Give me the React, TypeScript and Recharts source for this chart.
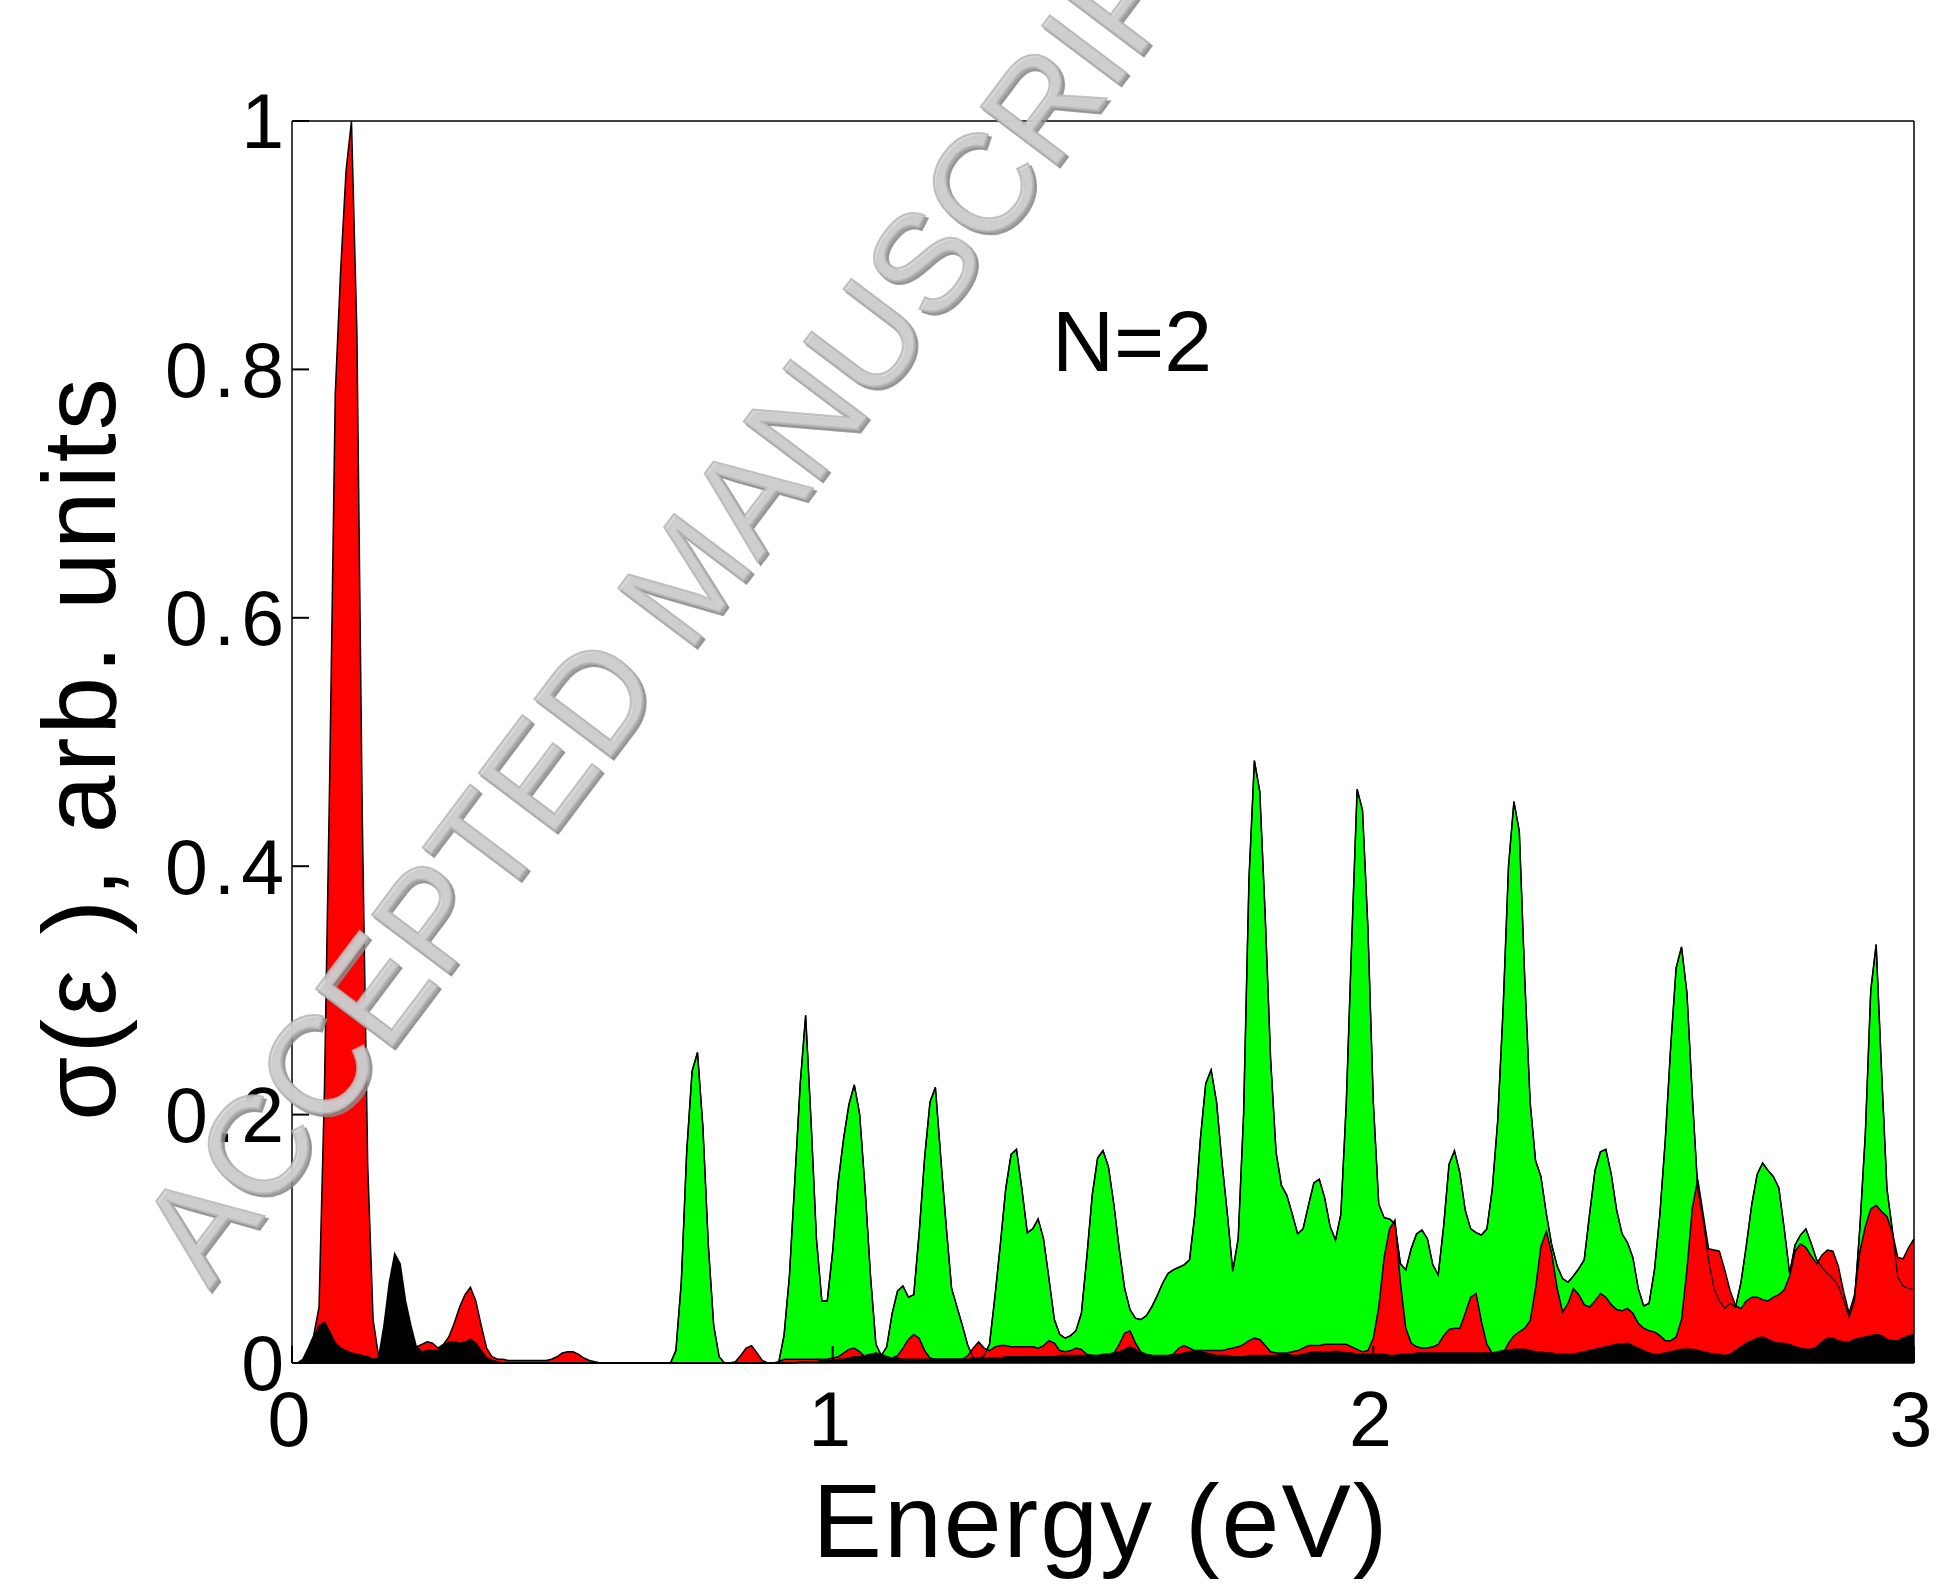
import React from "react";
import { ComposedChart, Area, XAxis, YAxis } from "recharts";

// energy grid (eV)
const energy = [
  0, 0.01, 0.02, 0.03, 0.04, 0.05, 0.06, 0.07, 0.08, 0.09,
  0.1, 0.11, 0.12, 0.13, 0.14, 0.15, 0.16, 0.17, 0.18, 0.19,
  0.2, 0.21, 0.22, 0.23, 0.24, 0.25, 0.26, 0.27, 0.28, 0.29,
  0.3, 0.31, 0.32, 0.33, 0.34, 0.35, 0.36, 0.37, 0.38, 0.39,
  0.4, 0.41, 0.42, 0.43, 0.44, 0.45, 0.46, 0.47, 0.48, 0.49,
  0.5, 0.51, 0.52, 0.53, 0.54, 0.55, 0.56, 0.57, 0.58, 0.59,
  0.6, 0.61, 0.62, 0.63, 0.64, 0.65, 0.66, 0.67, 0.68, 0.69,
  0.7, 0.71, 0.72, 0.73, 0.74, 0.75, 0.76, 0.77, 0.78, 0.79,
  0.8, 0.81, 0.82, 0.83, 0.84, 0.85, 0.86, 0.87, 0.88, 0.89,
  0.9, 0.91, 0.92, 0.93, 0.94, 0.95, 0.96, 0.97, 0.98, 0.99,
  1, 1.01, 1.02, 1.03, 1.04, 1.05, 1.06, 1.07, 1.08, 1.09,
  1.1, 1.11, 1.12, 1.13, 1.14, 1.15, 1.16, 1.17, 1.18, 1.19,
  1.2, 1.21, 1.22, 1.23, 1.24, 1.25, 1.26, 1.27, 1.28, 1.29,
  1.3, 1.31, 1.32, 1.33, 1.34, 1.35, 1.36, 1.37, 1.38, 1.39,
  1.4, 1.41, 1.42, 1.43, 1.44, 1.45, 1.46, 1.47, 1.48, 1.49,
  1.5, 1.51, 1.52, 1.53, 1.54, 1.55, 1.56, 1.57, 1.58, 1.59,
  1.6, 1.61, 1.62, 1.63, 1.64, 1.65, 1.66, 1.67, 1.68, 1.69,
  1.7, 1.71, 1.72, 1.73, 1.74, 1.75, 1.76, 1.77, 1.78, 1.79,
  1.8, 1.81, 1.82, 1.83, 1.84, 1.85, 1.86, 1.87, 1.88, 1.89,
  1.9, 1.91, 1.92, 1.93, 1.94, 1.95, 1.96, 1.97, 1.98, 1.99,
  2, 2.01, 2.02, 2.03, 2.04, 2.05, 2.06, 2.07, 2.08, 2.09,
  2.1, 2.11, 2.12, 2.13, 2.14, 2.15, 2.16, 2.17, 2.18, 2.19,
  2.2, 2.21, 2.22, 2.23, 2.24, 2.25, 2.26, 2.27, 2.28, 2.29,
  2.3, 2.31, 2.32, 2.33, 2.34, 2.35, 2.36, 2.37, 2.38, 2.39,
  2.4, 2.41, 2.42, 2.43, 2.44, 2.45, 2.46, 2.47, 2.48, 2.49,
  2.5, 2.51, 2.52, 2.53, 2.54, 2.55, 2.56, 2.57, 2.58, 2.59,
  2.6, 2.61, 2.62, 2.63, 2.64, 2.65, 2.66, 2.67, 2.68, 2.69,
  2.7, 2.71, 2.72, 2.73, 2.74, 2.75, 2.76, 2.77, 2.78, 2.79,
  2.8, 2.81, 2.82, 2.83, 2.84, 2.85, 2.86, 2.87, 2.88, 2.89,
  2.9, 2.91, 2.92, 2.93, 2.94, 2.95, 2.96, 2.97, 2.98, 2.99,
  3,
];

// green spectrum
const green = [
  0, 0, 0, 0, 0, 0, 0, 0, 0, 0,
  0, 0, 0, 0, 0, 0, 0, 0, 0, 0,
  0, 0, 0, 0, 0, 0, 0, 0, 0, 0,
  0, 0, 0, 0, 0, 0, 0, 0, 0, 0,
  0, 0, 0, 0, 0, 0, 0, 0, 0, 0,
  0, 0, 0, 0, 0, 0, 0, 0, 0, 0,
  0, 0, 0, 0, 0, 0, 0, 0, 0, 0,
  0, 0.01, 0.065, 0.17, 0.235, 0.25, 0.19, 0.095, 0.03, 0.005,
  0, 0, 0, 0, 0, 0, 0, 0, 0, 0,
  0, 0.022, 0.07, 0.147, 0.225, 0.28, 0.195, 0.1, 0.05, 0.05,
  0.09, 0.145, 0.18, 0.208, 0.224, 0.2, 0.14, 0.07, 0.015, 0.006,
  0.013, 0.04, 0.058, 0.062, 0.053, 0.055, 0.105, 0.165, 0.21, 0.222,
  0.165, 0.11, 0.06, 0.045, 0.03, 0.014, 0.004, 0.004, 0.006, 0.015,
  0.053, 0.095, 0.14, 0.168, 0.172, 0.14, 0.105, 0.108, 0.116, 0.1,
  0.068, 0.035, 0.023, 0.02, 0.022, 0.026, 0.04, 0.085, 0.135, 0.165,
  0.171, 0.158, 0.128, 0.092, 0.06, 0.043, 0.036, 0.035, 0.038, 0.045,
  0.054, 0.064, 0.072, 0.075, 0.077, 0.079, 0.083, 0.12, 0.18, 0.225,
  0.236, 0.21, 0.162, 0.12, 0.074, 0.1, 0.2, 0.39, 0.485, 0.46,
  0.36, 0.245, 0.17, 0.143, 0.135, 0.12, 0.104, 0.108, 0.127, 0.145,
  0.148, 0.133, 0.11, 0.099, 0.12, 0.21, 0.34, 0.462, 0.445, 0.35,
  0.21, 0.128, 0.117, 0.116, 0.112, 0.08, 0.075, 0.092, 0.104, 0.107,
  0.1, 0.079, 0.071, 0.11, 0.16, 0.171, 0.153, 0.123, 0.108, 0.105,
  0.103, 0.108, 0.14, 0.195, 0.285, 0.4, 0.452, 0.428, 0.31, 0.21,
  0.163, 0.15, 0.12, 0.095, 0.078, 0.068, 0.065, 0.07, 0.076, 0.083,
  0.12, 0.155, 0.17, 0.172, 0.152, 0.123, 0.104, 0.097, 0.085, 0.06,
  0.046, 0.048, 0.075, 0.12, 0.18, 0.255, 0.318, 0.335, 0.298, 0.215,
  0.14, 0.115, 0.083, 0.06, 0.05, 0.044, 0.048, 0.045, 0.065, 0.095,
  0.128, 0.152, 0.161, 0.155, 0.15, 0.141, 0.108, 0.072, 0.095, 0.103,
  0.108, 0.096, 0.083, 0.077, 0.072, 0.068, 0.062, 0.05, 0.037, 0.05,
  0.11, 0.185, 0.3, 0.337, 0.235, 0.14, 0.107, 0.069, 0.062, 0.06,
  0.059,
];

// red spectrum
const red = [
  0, 0, 0.003, 0.012, 0.022, 0.045, 0.22, 0.48, 0.78, 0.88,
  0.96, 1.0, 0.83, 0.44, 0.16, 0.035, 0.006, 0.005, 0.004, 0.004,
  0.004, 0.006, 0.01, 0.013, 0.015, 0.017, 0.016, 0.012, 0.015, 0.021,
  0.032, 0.045, 0.055, 0.061, 0.05, 0.03, 0.012, 0.005, 0.003, 0.003,
  0.002, 0.002, 0.002, 0.002, 0.002, 0.002, 0.002, 0.002, 0.003, 0.005,
  0.008, 0.009, 0.009, 0.007, 0.004, 0.002, 0.001, 0, 0, 0,
  0, 0, 0, 0, 0, 0, 0, 0, 0, 0,
  0, 0, 0, 0, 0, 0, 0, 0, 0, 0,
  0, 0, 0.001, 0.006, 0.012, 0.014, 0.008, 0.002, 0, 0,
  0.001, 0.003, 0.003, 0.003, 0.003, 0.003, 0.003, 0.003, 0.003, 0.003,
  0.004, 0.005, 0.008, 0.011, 0.012, 0.009, 0.005, 0.004, 0.003, 0.003,
  0.003, 0.004, 0.006, 0.012, 0.019, 0.023, 0.02, 0.01, 0.004, 0.003,
  0.003, 0.003, 0.003, 0.003, 0.003, 0.006, 0.012, 0.017, 0.012, 0.01,
  0.013, 0.014, 0.014, 0.013, 0.013, 0.013, 0.013, 0.013, 0.012, 0.014,
  0.018, 0.016, 0.01, 0.009, 0.01, 0.012, 0.011, 0.007, 0.006, 0.006,
  0.007, 0.007, 0.008, 0.015, 0.024, 0.026, 0.016, 0.009, 0.007, 0.006,
  0.006, 0.006, 0.006, 0.007, 0.012, 0.014, 0.012, 0.01, 0.01, 0.01,
  0.01, 0.01, 0.01, 0.011, 0.012, 0.013, 0.015, 0.018, 0.02, 0.019,
  0.014, 0.009, 0.008, 0.008, 0.008, 0.009, 0.01, 0.012, 0.014, 0.014,
  0.014, 0.015, 0.015, 0.015, 0.015, 0.015, 0.013, 0.011, 0.009, 0.01,
  0.02, 0.045, 0.085, 0.108, 0.115, 0.065, 0.028, 0.016, 0.013, 0.012,
  0.012, 0.013, 0.015, 0.022, 0.027, 0.028, 0.028, 0.04, 0.053, 0.056,
  0.033, 0.015, 0.008, 0.006, 0.008, 0.016, 0.022, 0.025, 0.028, 0.034,
  0.06, 0.094, 0.106, 0.088, 0.06, 0.041, 0.048, 0.06, 0.055, 0.047,
  0.045, 0.05, 0.056, 0.053, 0.047, 0.043, 0.042, 0.044, 0.04, 0.032,
  0.028, 0.026, 0.025, 0.022, 0.018, 0.018, 0.021, 0.035, 0.075, 0.125,
  0.148, 0.12, 0.092, 0.091, 0.09, 0.075, 0.058, 0.046, 0.044, 0.05,
  0.053, 0.053, 0.051, 0.05, 0.053, 0.055, 0.059, 0.07, 0.09, 0.096,
  0.093, 0.086, 0.08, 0.087, 0.091, 0.09, 0.078, 0.057, 0.04, 0.055,
  0.09, 0.11, 0.124, 0.127, 0.122, 0.118, 0.105, 0.085, 0.084, 0.093,
  0.1,
];

// black spectrum
const black = [
  0, 0, 0.002, 0.01, 0.02, 0.03, 0.033, 0.025, 0.016, 0.012,
  0.01, 0.008, 0.007, 0.006, 0.005, 0.003, 0.004, 0.03, 0.065, 0.088,
  0.08, 0.05, 0.03, 0.013, 0.009, 0.01, 0.01, 0.01, 0.014, 0.017,
  0.017, 0.016, 0.017, 0.019, 0.016, 0.01, 0.004, 0.002, 0.001, 0,
  0, 0, 0, 0, 0, 0, 0, 0, 0, 0,
  0, 0, 0, 0, 0, 0, 0, 0, 0, 0,
  0, 0, 0, 0, 0, 0, 0, 0, 0, 0,
  0, 0, 0, 0, 0, 0, 0, 0, 0, 0,
  0, 0, 0, 0, 0, 0, 0, 0, 0, 0,
  0, 0, 0, 0, 0.001, 0.001, 0.001, 0.001, 0.002, 0.002,
  0.002, 0.003, 0.003, 0.004, 0.005, 0.005, 0.006, 0.007, 0.008, 0.007,
  0.005, 0.004, 0.004, 0.003, 0.003, 0.003, 0.003, 0.003, 0.003, 0.003,
  0.003, 0.003, 0.003, 0.003, 0.003, 0.003, 0.004, 0.004, 0.004, 0.004,
  0.004, 0.004, 0.005, 0.005, 0.005, 0.005, 0.005, 0.005, 0.005, 0.005,
  0.005, 0.005, 0.006, 0.006, 0.006, 0.006, 0.006, 0.006, 0.006, 0.006,
  0.006, 0.007, 0.008, 0.009, 0.011, 0.013, 0.011, 0.008, 0.006, 0.006,
  0.005, 0.005, 0.005, 0.006, 0.007, 0.008, 0.009, 0.01, 0.009, 0.008,
  0.007, 0.006, 0.006, 0.006, 0.005, 0.005, 0.005, 0.006, 0.006, 0.006,
  0.006, 0.006, 0.006, 0.007, 0.007, 0.006, 0.006, 0.007, 0.008, 0.009,
  0.009, 0.009, 0.009, 0.0095, 0.009, 0.008, 0.008, 0.007, 0.007, 0.007,
  0.007, 0.007, 0.007, 0.006, 0.006, 0.007, 0.007, 0.007, 0.008, 0.008,
  0.008, 0.008, 0.008, 0.008, 0.008, 0.008, 0.008, 0.008, 0.008, 0.008,
  0.008, 0.008, 0.008, 0.009, 0.01, 0.01, 0.011, 0.011, 0.011, 0.01,
  0.009, 0.009, 0.008, 0.008, 0.007, 0.007, 0.007, 0.007, 0.008, 0.009,
  0.01, 0.011, 0.012, 0.013, 0.014, 0.015, 0.015, 0.016, 0.014, 0.012,
  0.01, 0.008, 0.007, 0.007, 0.008, 0.009, 0.01, 0.011, 0.011, 0.011,
  0.01, 0.009, 0.008, 0.007, 0.007, 0.006, 0.007, 0.01, 0.013, 0.016,
  0.018, 0.02, 0.021, 0.019, 0.017, 0.016, 0.016, 0.015, 0.013, 0.012,
  0.011, 0.011, 0.013, 0.017, 0.02, 0.02, 0.018, 0.017, 0.017, 0.019,
  0.02, 0.021, 0.022, 0.023, 0.022, 0.019, 0.018, 0.018, 0.02, 0.022,
  0.023,
];

const xTicks = [0, 1, 2, 3];
const yTicks = [0, 0.2, 0.4, 0.6, 0.8, 1];

const W = 1941;
const H = 1586;
const FONT = '"Liberation Sans", Arial, Helvetica, sans-serif';

export default function App() {
  const data = energy.map((e, i) => ({ e, g: green[i], r: red[i], b: black[i] }));

  const tickStyle = { fontFamily: FONT, fontSize: 77, fill: "#000", letterSpacing: 6 };
  const axisLine = { stroke: "#000", strokeWidth: 1.5 };
  const tickLine = { stroke: "#000", strokeWidth: 2 };

  return (
    <div style={{ position: "absolute", left: 0, top: 0, width: W, height: H, background: "#fff" }}>
      <ComposedChart
        width={W}
        height={H}
        data={data}
        margin={{ top: 120, right: 26, bottom: 222, left: 291 }}
      >
        <XAxis
          xAxisId="bottom"
          dataKey="e"
          type="number"
          domain={[0, 3]}
          ticks={xTicks}
          interval={0}
          height={1}
          tickSize={-17}
          tickMargin={45}
          tick={tickStyle}
          axisLine={axisLine}
          tickLine={tickLine}
        />
        <XAxis
          xAxisId="top"
          orientation="top"
          dataKey="e"
          type="number"
          domain={[0, 3]}
          ticks={xTicks}
          interval={0}
          height={1}
          tickSize={-17}
          tick={false}
          axisLine={axisLine}
          tickLine={tickLine}
        />
        <YAxis
          yAxisId="left"
          type="number"
          domain={[0, 1]}
          ticks={yTicks}
          interval={0}
          width={1}
          tickSize={-17}
          tickMargin={19}
          tick={tickStyle}
          axisLine={axisLine}
          tickLine={tickLine}
        />
        <YAxis
          yAxisId="right"
          orientation="right"
          type="number"
          domain={[0, 1]}
          ticks={yTicks}
          interval={0}
          width={1}
          tickSize={-17}
          tick={false}
          axisLine={axisLine}
          tickLine={tickLine}
        />
        <Area
          xAxisId="bottom"
          yAxisId="left"
          dataKey="g"
          type="linear"
          fill="#00ff00"
          fillOpacity={1}
          stroke="#000"
          strokeWidth={1.5}
          dot={false}
          activeDot={false}
          isAnimationActive={false}
        />
        <Area
          xAxisId="bottom"
          yAxisId="left"
          dataKey="r"
          type="linear"
          fill="#ff0000"
          fillOpacity={1}
          stroke="#000"
          strokeWidth={1.5}
          dot={false}
          activeDot={false}
          isAnimationActive={false}
        />
        {/* green outline shows through the red fill */}
        <Area
          xAxisId="bottom"
          yAxisId="left"
          dataKey="g"
          type="linear"
          fill="none"
          stroke="#000"
          strokeWidth={1.2}
          dot={false}
          activeDot={false}
          isAnimationActive={false}
        />
        <Area
          xAxisId="bottom"
          yAxisId="left"
          dataKey="b"
          type="linear"
          fill="#000"
          fillOpacity={1}
          stroke="#000"
          strokeWidth={1.5}
          dot={false}
          activeDot={false}
          isAnimationActive={false}
        />
      </ComposedChart>

      <svg
        width={W}
        height={H}
        style={{ position: "absolute", left: 0, top: 0, pointerEvents: "none" }}
        fontFamily={FONT}
      >
        {/* watermark: dark offset copy for the bevel, light face on top */}
        <text
          x={212}
          y={1293}
          transform="rotate(-53 212 1293)"
          fontSize={139}
          fill="#8a8a8a"
          fillOpacity={0.8}
          stroke="#8a8a8a"
          strokeWidth={2}
          strokeOpacity={0.8}
        >
          ACCEPTED MANUSCRIPT
        </text>
        <text
          x={209}
          y={1290}
          transform="rotate(-53 209 1290)"
          fontSize={139}
          fill="#d4d4d4"
          fillOpacity={0.88}
          stroke="#b4b4b4"
          strokeWidth={2}
          strokeOpacity={0.8}
        >
          ACCEPTED MANUSCRIPT
        </text>
        <text x={1052} y={371} fontSize={86} fill="#000">
          N=2
        </text>
        <text x={1101} y={1557} fontSize={104} textAnchor="middle" letterSpacing={2} fill="#000">
          Energy (eV)
        </text>
        <text
          transform="translate(115,748) rotate(-90)"
          fontSize={104}
          textAnchor="middle"
          letterSpacing={3}
          fill="#000"
        >
          σ(ε ), arb. units
        </text>
      </svg>
    </div>
  );
}
